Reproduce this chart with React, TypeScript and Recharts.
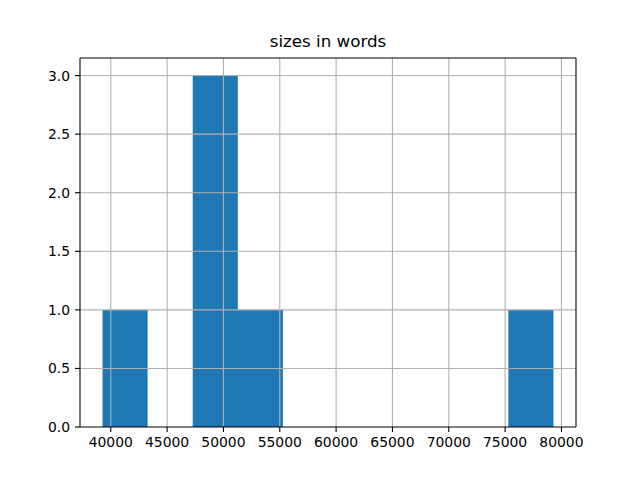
import { ComposedChart, Area, XAxis, YAxis, ReferenceLine } from "recharts";

// histogram bins (10 bins)
const binEdges = [39270, 43272, 47274, 51276, 55278, 59280, 63282, 67284, 71286, 75288, 79290];
const binCounts = [1, 0, 3, 1, 0, 0, 0, 0, 0, 1];

const xTicks = [40000, 45000, 50000, 55000, 60000, 65000, 70000, 75000, 80000];
const yTicks = [0, 0.5, 1, 1.5, 2, 2.5, 3];
const xDomain = [37269, 81291];
const yDomain = [0, 3.15];

const title = "sizes in words";

const font = "'DejaVu Sans', sans-serif";
const tickStyle = { fill: "#000", fontSize: 13.9, fontFamily: font };
const spine = { stroke: "#000", strokeWidth: 1.1 };
const grid = { stroke: "#b0b0b0", strokeWidth: 1.1 };

export default function App() {
  const data = binEdges.map((edge, i) => ({ edge, count: binCounts[i] ?? 0 }));

  return (
    <div style={{ position: "absolute", left: 0, top: 0, width: 640, height: 480, background: "#fff" }}>
      <div
        style={{
          position: "absolute",
          left: 80,
          width: 496,
          top: 31,
          textAlign: "center",
          fontFamily: font,
          fontSize: 16.7,
          color: "#000",
        }}
      >
        {title}
      </div>
      <ComposedChart
        width={640}
        height={480}
        data={data}
        margin={{ top: 58, right: 64, bottom: 0, left: 0 }}
      >
        <XAxis
          dataKey="edge"
          type="number"
          domain={xDomain}
          ticks={xTicks}
          allowDataOverflow
          height={53}
          tick={tickStyle}
          tickSize={5}
          tickMargin={5}
          stroke="#000"
          axisLine={spine}
          tickLine={spine}
          interval={0}
        />
        <YAxis
          type="number"
          domain={yDomain}
          ticks={yTicks}
          allowDataOverflow
          width={80}
          tick={tickStyle}
          tickSize={5}
          tickMargin={5}
          tickFormatter={(v) => Number(v).toFixed(1)}
          axisLine={spine}
          tickLine={spine}
          interval={0}
        />
        <Area
          type="stepAfter"
          dataKey="count"
          fill="#1f77b4"
          fillOpacity={1}
          stroke="none"
          baseValue={0}
          dot={false}
          activeDot={false}
          isAnimationActive={false}
        />
        {/* pandas draws the grid over the patches, so grid lines go on top */}
        {xTicks.map((t) => (
          <ReferenceLine key={"gx" + t} x={t} {...grid} />
        ))}
        {yTicks.filter((t) => t > 0).map((t) => (
          <ReferenceLine key={"gy" + t} y={t} {...grid} />
        ))}
        {/* top and right spines */}
        <ReferenceLine y={yDomain[1]} ifOverflow="visible" {...spine} />
        <ReferenceLine x={xDomain[1]} ifOverflow="visible" {...spine} />
      </ComposedChart>
    </div>
  );
}
